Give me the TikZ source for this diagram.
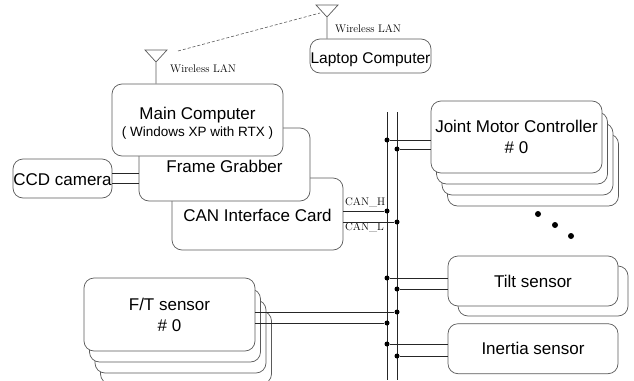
\documentclass[tikz,border=0pt]{standalone}
\usepackage{fontspec}
\setsansfont{Liberation Sans}
\usepackage{tikz}
\usetikzlibrary{positioning, shadows}
\definecolor{edge}{HTML}{5A5A5A}

\begin{document}
\begin{tikzpicture}[x=1pt, y=-1pt, node distance=17pt,
    box/.style={draw=edge, fill=white, line width=0.7pt, rounded corners=10pt, inner sep=0pt, align=center, font=\sffamily\fontsize{17}{21}\selectfont},
    stack/.style={copy shadow={shadow xshift=16.5pt, shadow yshift=-33pt, draw=edge, fill=white},
                  copy shadow={shadow xshift=11pt, shadow yshift=-22pt, draw=edge, fill=white},
                  copy shadow={shadow xshift=5.5pt, shadow yshift=-11pt, draw=edge, fill=white}},
    wire/.style={draw=black!85, line width=0.7pt},
    dot/.style={circle, fill=black, inner sep=0pt, minimum size=5pt},
    tag/.style={anchor=west, inner sep=0pt, font=\rmfamily\fontsize{11}{12}\selectfont}] % pixel grid, y grows downwards

    \useasboundingbox (0,0) rectangle (634,380);
    \clip (0,0) rectangle (634,380);

    % 1. Define Nodes
    \node (laptop) [box, minimum width=121pt, minimum height=34pt, text height=15pt, text depth=0pt, font=\sffamily\fontsize{15.5}{18}\selectfont] at (370.5,56) {Laptop Computer};
    \node (can) [box, minimum width=171pt, minimum height=72pt, text height=16pt] at (257.5,214) {CAN Interface Card};
    \node (grab) [box, minimum width=171pt, minimum height=73pt, text height=17pt] at (224.5,164.5) {Frame Grabber};
    % text height/depth set by hand so both lines sit like the original
    \node (main) [box, minimum width=171pt, minimum height=72pt, text height=33.5pt, text depth=0pt] at (197.5,120) {Main Computer\\[-4pt]{\fontsize{13.5}{16}\selectfont ( Windows XP with RTX )}};
    \node (ccd) [box, minimum width=99pt, minimum height=39pt, text height=15pt] at (62.5,178.5) {CCD camera};
    \node (joint) [box, stack, minimum width=171pt, minimum height=72pt] at (516.5,137) {Joint Motor Controller\\\# 0};
    \node (tilt) [box, copy shadow={shadow xshift=10pt, shadow yshift=-10pt, draw=edge, fill=white}, minimum width=170pt, minimum height=50pt] at (533,281) {Tilt sensor};
    \node (inertia) [box, minimum width=170pt, minimum height=50pt, below=of tilt] {Inertia sensor};
    \node (ft) [box, stack, minimum width=171pt, minimum height=73pt] at (169.5,314.5) {F/T sensor\\\# 0};

    % labels
    \node (wlanMain) [tag] at (170,69) {Wireless LAN};
    \node (wlanLap) [tag] at (335,29) {Wireless LAN};
    \node (canH) [tag] at (345,202) {CAN\_H};
    \node (canL) [tag] at (345,227) {CAN\_L};

    % 2. Antennas and the wireless link
    \coordinate (antMain) at (156,62);
    \coordinate (antLap) at (327,17);
    \draw[wire, draw=edge] (antMain |- main.north) -- (antMain) -- ++(-11,-12) -- ++(22,0) -- (antMain);
    \draw[wire, draw=edge] (antLap |- laptop.north) -- (antLap) -- ++(-11,-12) -- ++(22,0) -- (antLap);
    \coordinate (airA) at (178,51);
    \coordinate (airB) at (320,13);
    \draw[draw=edge, line width=0.6pt, dashed, dash pattern=on 3pt off 2pt] (airA) -- (airB);

    % 3. CAN bus (two lines)
    \coordinate (hiTop) at (387,112);
    \coordinate (hiEnd) at (387,380);
    \coordinate (loTop) at (397,112);
    \coordinate (loEnd) at (397,380);
    \draw[wire] (hiTop) -- (hiEnd);
    \draw[wire] (loTop) -- (loEnd);

    % CCD camera -> Frame Grabber
    \draw[wire] ([yshift=5pt]ccd.east) -- ([yshift=5pt]ccd.east -| grab.west);
    \draw[wire] ([yshift=-5pt]ccd.east) -- ([yshift=-5pt]ccd.east -| grab.west);

    % taps on the bus
    \node (jH) [dot] at (387,140) {};
    \node (jL) [dot] at (397,149) {};
    \draw[wire] (jH) -- (jH -| joint.west);
    \draw[wire] (jL) -- (jL -| joint.west);

    \node (cH) [dot] at (387,211) {};
    \node (cL) [dot] at (397,222) {};
    \draw[wire] (cH -| can.east) -- (cH);
    \draw[wire] (cL -| can.east) -- (cL);

    \node (tH) [dot] at (387,278) {};
    \node (tL) [dot] at (397,289) {};
    \draw[wire] (tH) -- (tH -| tilt.west);
    \draw[wire] (tL) -- (tL -| tilt.west);

    \node (fH) [dot] at (397,312) {};
    \node (fL) [dot] at (387,323) {};
    \draw[wire] (fH -| ft.east) -- (fH);
    \draw[wire] (fL -| ft.east) -- (fL);

    \node (iH) [dot] at (387,344) {};
    \node (iL) [dot] at (397,356) {};
    \draw[wire] (iH) -- (iH -| inertia.west);
    \draw[wire] (iL) -- (iL -| inertia.west);

    % more controllers
    \node (more1) [dot, minimum size=6pt] at (538,214) {};
    \node (more2) [dot, minimum size=6pt] at (555,225) {};
    \node (more3) [dot, minimum size=6pt] at (571,236) {};

\end{tikzpicture}
\end{document}
